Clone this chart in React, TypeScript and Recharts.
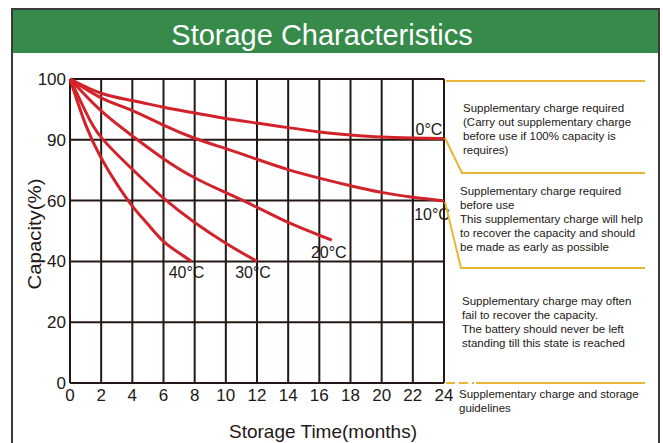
import { CartesianGrid, Line, LineChart, XAxis, YAxis } from 'recharts';

const FONT = '"Liberation Sans", Arial, Helvetica, sans-serif';
const INK = '#231815';
const RED = '#d2232a';
const GOLD = '#e8b735';
const GREEN = '#368a4a';

// x axis: storage time in months
const monthTicks = [0, 2, 4, 6, 8, 10, 12, 14, 16, 18, 20, 22, 24];
// y axis rows are evenly spaced but labelled 0,20,40,60,90,100
const capacityTicks = [0, 20, 40, 60, 80, 100];
const capacityTickLabels = ['0', '20', '40', '60', '90', '100'];

// curves (values in the chart's row units)
const months0C = [0, 2, 4, 6, 8, 10, 12, 14, 16, 18, 20, 22, 24];
const capacity0C = [100, 95.3, 92.9, 90.7, 88.8, 87, 85.5, 84, 82.6, 81.6, 80.9, 80.6, 80.4];

const months10C = [0, 2, 4, 6, 8, 10, 12, 14, 16, 18, 20, 22, 24];
const capacity10C = [100, 93.8, 89.6, 84.8, 80.5, 77.1, 73.6, 70.2, 67.4, 64.9, 62.7, 61.1, 59.9];

const months20C = [0, 2, 4, 6, 8, 10, 12, 14, 16, 16.8];
const capacity20C = [100, 89.5, 81.3, 73.8, 67.5, 62.6, 57.8, 52.8, 48.6, 47];

const months30C = [0, 1, 2, 4, 6, 8, 10, 12];
const capacity30C = [100, 89.3, 80.8, 70.3, 60.8, 52.8, 46, 40];

const months40C = [0, 1, 2, 3, 4, 5, 6, 7, 7.8];
const capacity40C = [100, 85, 74, 65.5, 58.2, 52.2, 46.6, 42.8, 40];

const curveNames = ['0°C', '10°C', '20°C', '30°C', '40°C'];
const curveMonths = [months0C, months10C, months20C, months30C, months40C];
const curveCapacity = [capacity0C, capacity10C, capacity20C, capacity30C, capacity40C];

// where each temperature label sits relative to the curve end
const labelOffsets = [
  { dx: -15, dy: -9 },
  { dx: -12, dy: 14 },
  { dx: -3, dy: 12 },
  { dx: -4, dy: 11 },
  { dx: -5, dy: 11 },
];

const notes = [
  { x: 463, y: 112, lines: ['Supplementary charge required', '(Carry out supplementary charge', 'before use if 100% capacity is', 'requires)'] },
  { x: 460, y: 195, lines: ['Supplementary charge required', 'before use', 'This supplementary charge will help', 'to recover the capacity and should', 'be made as early as possible'] },
  { x: 462, y: 305, lines: ['Supplementary charge may often', 'fail to recover the capacity.', 'The battery should never be left', 'standing till this state is reached'] },
  { x: 459, y: 398, lines: ['Supplementary charge and storage', 'guidelines'] },
];

const toPoints = (months: number[], caps: number[]) =>
  months.map((m, i) => ({ month: m, capacity: caps[i] }));

const endLabel = (idx: number, lastIndex: number) => (props: any) => {
  if (props.index !== lastIndex) return null;
  const off = labelOffsets[idx];
  return (
    <text
      key={`lbl-${idx}`}
      x={props.x + off.dx}
      y={props.y + off.dy}
      textAnchor="middle"
      dominantBaseline="central"
      fontSize={16}
      fontFamily={FONT}
      fill={INK}
    >
      {curveNames[idx]}
    </text>
  );
};

export default function App() {
  return (
    <div style={{ position: 'absolute', left: 0, top: 0, width: 663, height: 443, background: '#fff', fontFamily: FONT }}>
      <LineChart width={663} height={443} margin={{ top: 79, right: 219, bottom: 30, left: 30 }}>
        <CartesianGrid stroke={INK} strokeWidth={2} />
        <XAxis
          type="number"
          dataKey="month"
          domain={[0, 24]}
          ticks={monthTicks}
          interval={0}
          height={30}
          axisLine={false}
          tickLine={false}
          tickSize={0}
          tickMargin={6}
          tick={{ fill: INK, fontSize: 17, fontFamily: FONT }}
        />
        <YAxis
          type="number"
          domain={[0, 100]}
          ticks={capacityTicks}
          interval={0}
          width={40}
          axisLine={false}
          tickLine={false}
          tickSize={0}
          tickMargin={4}
          tickFormatter={(v: number) => capacityTickLabels[capacityTicks.indexOf(v)] ?? String(v)}
          tick={{ fill: INK, fontSize: 17, fontFamily: FONT }}
        />
        {curveNames.map((name, i) => (
          <Line
            key={name}
            name={name}
            data={toPoints(curveMonths[i], curveCapacity[i])}
            dataKey="capacity"
            type="natural"
            stroke={RED}
            strokeWidth={3}
            dot={false}
            activeDot={false}
            isAnimationActive={false}
            label={endLabel(i, curveMonths[i].length - 1)}
          />
        ))}
      </LineChart>
      <svg
        width={663}
        height={443}
        style={{ position: 'absolute', left: 0, top: 0, pointerEvents: 'none' }}
      >
        {/* frame and header */}
        <rect x={12} y={10} width={647} height={43} fill={GREEN} />
        <polyline points="12,443 12,9 659,9 659,443" fill="none" stroke="#3a3a3a" strokeWidth={2} />
        <text x={322} y={45} textAnchor="middle" fontSize={29} fontFamily={FONT} fill="#fff">
          Storage Characteristics
        </text>
        {/* axis titles */}
        <text
          x={0}
          y={0}
          transform="translate(41,234) rotate(-90)"
          textAnchor="middle"
          fontSize={19}
          fontFamily={FONT}
          fill={INK}
          textLength={111}
          lengthAdjust="spacingAndGlyphs"
        >
          Capacity(%)
        </text>
        <text
          x={323}
          y={438}
          textAnchor="middle"
          fontSize={19}
          fontFamily={FONT}
          fill={INK}
          textLength={188}
          lengthAdjust="spacingAndGlyphs"
        >
          Storage  Time(months)
        </text>
        {/* guideline brackets */}
        <g stroke={GOLD} strokeWidth={2} fill="none">
          <line x1={446} y1={81} x2={645} y2={81} />
          <polyline points="445,138 462,173 645,173" />
          <polyline points="445,202 461,268 645,268" />
          <line x1={446} y1={383} x2={474} y2={383} strokeDasharray="9 4" />
          <line x1={476} y1={383} x2={645} y2={383} />
        </g>
        {notes.map((n, k) => (
          <text key={k} x={n.x} y={n.y} fontSize={11.5} fontFamily={FONT} fill={INK}>
            {n.lines.map((ln, j) => (
              <tspan key={j} x={n.x} dy={j === 0 ? 0 : 14}>
                {ln}
              </tspan>
            ))}
          </text>
        ))}
      </svg>
    </div>
  );
}
